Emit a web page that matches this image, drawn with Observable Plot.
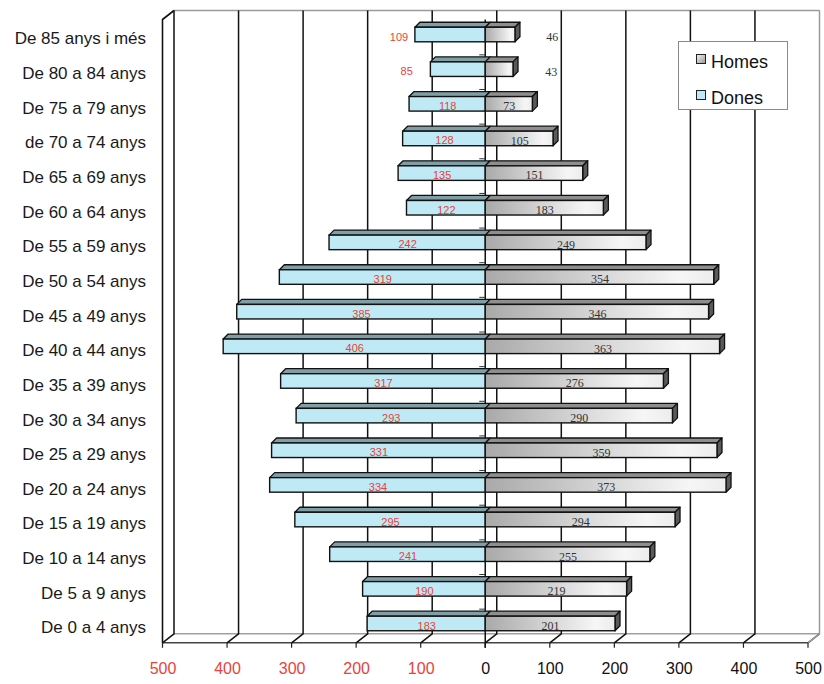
<!DOCTYPE html>
<html><head><meta charset="utf-8">
<script src="https://cdn.jsdelivr.net/npm/d3@7"></script>
<script src="https://cdn.jsdelivr.net/npm/@observablehq/plot@0.6"></script>
<style>
body{margin:0;background:#fff;font-family:"Liberation Sans",Arial,sans-serif;}
#wrap{position:relative;width:824px;height:684px;}
#legend{position:absolute;left:678px;top:41px;width:110px;height:69px;border:1px solid #8a8a8a;background:#fff;box-sizing:border-box;}
.sw{position:absolute;left:17px;width:10px;height:10px;border:1.5px solid #222;box-sizing:border-box;}
.lt{position:absolute;left:32px;font-size:18px;line-height:18px;color:#111;}
</style></head><body>
<svg width="0" height="0" style="position:absolute">
<defs>
<linearGradient id="gH" x1="0" x2="1" y1="0" y2="0"><stop offset="0" stop-color="#a9a9a9"/><stop offset="0.85" stop-color="#f6f6f6"/><stop offset="1" stop-color="#ececec"/></linearGradient>
</defs></svg>
<div id="wrap">
<div id="legend">
  <div class="sw" style="top:12px;background:linear-gradient(135deg,#f0f0f0,#9a9a9a);"></div><div class="lt" style="top:11px;">Homes</div>
  <div class="sw" style="top:48px;background:#bfe9f5;"></div><div class="lt" style="top:47px;">Dones</div>
</div>
</div>
<script>
const ageGroups = ["De 85 anys i més","De 80 a 84 anys","De 75 a 79 anys","de 70 a 74 anys","De 65 a 69 anys","De 60 a 64 anys","De 55 a 59 anys","De 50 a 54 anys","De 45 a 49 anys","De 40 a 44 anys","De 35 a 39 anys","De 30 a 34 anys","De 25 a 29 anys","De 20 a 24 anys","De 15 a 19 anys","De 10 a 14 anys","De 5 a 9 anys","De 0 a 4 anys"];
const dones = [109,85,118,128,135,122,242,319,385,406,317,293,331,334,295,241,190,183];
const homes = [46,43,73,105,151,183,249,354,346,363,276,290,359,373,294,255,219,201];
const xTicks = [-500,-400,-300,-200,-100,0,100,200,300,400,500];

const rows = ageGroups.map((g, i) => ({g, d: dones[i], h: homes[i]}));
const RED = "#e8433a";
const NS = "http://www.w3.org/2000/svg";
function el(tag, attrs) { const e = document.createElementNS(NS, tag); for (const k in attrs) e.setAttribute(k, attrs[k]); return e; }
function bandwidth(sy) {
  if (typeof sy.bandwidth === "function") return sy.bandwidth();
  return (sy(ageGroups[1]) - sy(ageGroups[0])) * 0.42;
}

// 3D walls, floor and gridlines, positioned from the x scale and plot dimensions
function walls(index, scales, values, dims) {
  const sx = scales.x;
  const g = el("g", {fill: "none"});
  const DX = 11.5, DY = -9;
  const fTop = dims.marginTop + 2.3, fBot = dims.height - dims.marginBottom + 2;
  const bTop = fTop + DY, bBot = fBot + DY;
  const xL = sx(-500), xR = sx(500);
  g.append(el("line", {x1: xL + DX, y1: bTop, x2: xR + DX, y2: bTop, stroke: "#9a9a9a", "stroke-width": 1.5}));
  g.append(el("line", {x1: xL + DX, y1: bBot, x2: xR + DX, y2: bBot, stroke: "#a0a0a0", "stroke-width": 1.5}));
  g.append(el("line", {x1: xL, y1: fBot, x2: xR, y2: fBot, stroke: "#444", "stroke-width": 1.5}));
  g.append(el("line", {x1: xR, y1: fBot, x2: xR + DX, y2: bBot, stroke: "#333", "stroke-width": 1.5}));
  g.append(el("path", {d: `M${xL},${fBot}V${fTop}L${xL + DX},${bTop}`, stroke: "#111", "stroke-width": 1.6}));
  for (const t of xTicks) {
    const x = sx(t);
    g.append(el("path", {d: `M${x + DX},${bTop}V${bBot}L${x},${fBot}`, stroke: t === 500 ? "#9a9a9a" : "#111", "stroke-width": 1.5}));
    g.append(el("line", {x1: x, y1: fBot, x2: x, y2: fBot + 5, stroke: "#222", "stroke-width": 1.2}));
  }
  const x0 = sx(0);
  g.append(el("line", {x1: x0, y1: fTop, x2: x0, y2: fBot + 5, stroke: "#111", "stroke-width": 1.5}));
  return g;
}

// Category ticks on the zero axis and 3D faces (top + side) of each bar
function barFaces(index, scales) {
  const sx = scales.x, sy = scales.y, bw = bandwidth(sy);
  const g = el("g", {stroke: "#111", "stroke-width": 1.3, "stroke-linejoin": "round"});
  const d = 5;
  const x0 = sx(0);
  for (let i = 1; i < ageGroups.length; i++) {
    const yb = (sy(ageGroups[i - 1]) + bw + sy(ageGroups[i])) / 2 + 3;
    g.append(el("line", {x1: x0 - 6, y1: yb, x2: x0, y2: yb, stroke: "#333", "stroke-width": 1}));
  }
  for (const r of rows) {
    const yt = sy(r.g), yb = yt + bw;
    const xa = sx(-r.d), xh = sx(r.h);
    g.append(el("path", {d: `M${xa},${yt}L${x0},${yt}L${x0 + d},${yt - d}L${xa + d},${yt - d}Z`, fill: "#7f9ea6"}));
    g.append(el("path", {d: `M${x0},${yt}L${xh},${yt}L${xh + d},${yt - d}L${x0 + d},${yt - d}Z`, fill: "#8e8e8e"}));
    g.append(el("path", {d: `M${xh},${yt}L${xh + d},${yt - d}L${xh + d},${yb - d}L${xh},${yb}Z`, fill: "#5a5a5a"}));
  }
  return g;
}

const chart = Plot.plot({
  width: 824,
  height: 684,
  marginLeft: 162.5,
  marginRight: 16,
  marginTop: 17.2,
  marginBottom: 43.2,
  style: {fontFamily: "'Liberation Sans', Arial, sans-serif", background: "transparent", overflow: "visible"},
  x: {domain: [-500, 500], axis: null},
  y: {type: "band", domain: ageGroups, paddingInner: 0.58, paddingOuter: 0.29, round: false, axis: null},
  marks: [
    walls,
    barFaces,
    Plot.barX(rows, {x1: r => -r.d, x2: 0, y: "g", fill: "#bfe9f5", stroke: "#111", strokeWidth: 1.4}),
    Plot.barX(rows, {x1: 0, x2: "h", y: "g", fill: "url(#gH)", stroke: "#111", strokeWidth: 1.4}),
    Plot.text(rows, {x: r => r.d >= 110 ? -r.d / 2 : -(r.d / 2 + 80), y: "g", text: r => String(r.d), fill: RED, fontSize: 11, dy: 2}),
    Plot.text(rows, {x: r => r.h >= 50 ? r.h / 2 : r.h / 2 + 80, y: "g", text: r => String(r.h), fill: "#333", fontSize: 12, fontFamily: "'Liberation Serif', 'Times New Roman', serif", dy: 2}),
    Plot.axisY({tickSize: 0, tickPadding: 17, fontSize: 17, dy: 4, label: null, fill: "#1a1a1a"}),
    Plot.text(xTicks, {x: d => d, text: d => String(Math.abs(d)), frameAnchor: "bottom", dy: 33, fontSize: 16, fill: d => d < 0 ? RED : "#111"})
  ]
});
document.getElementById("wrap").prepend(chart);
</script>
</body></html>
